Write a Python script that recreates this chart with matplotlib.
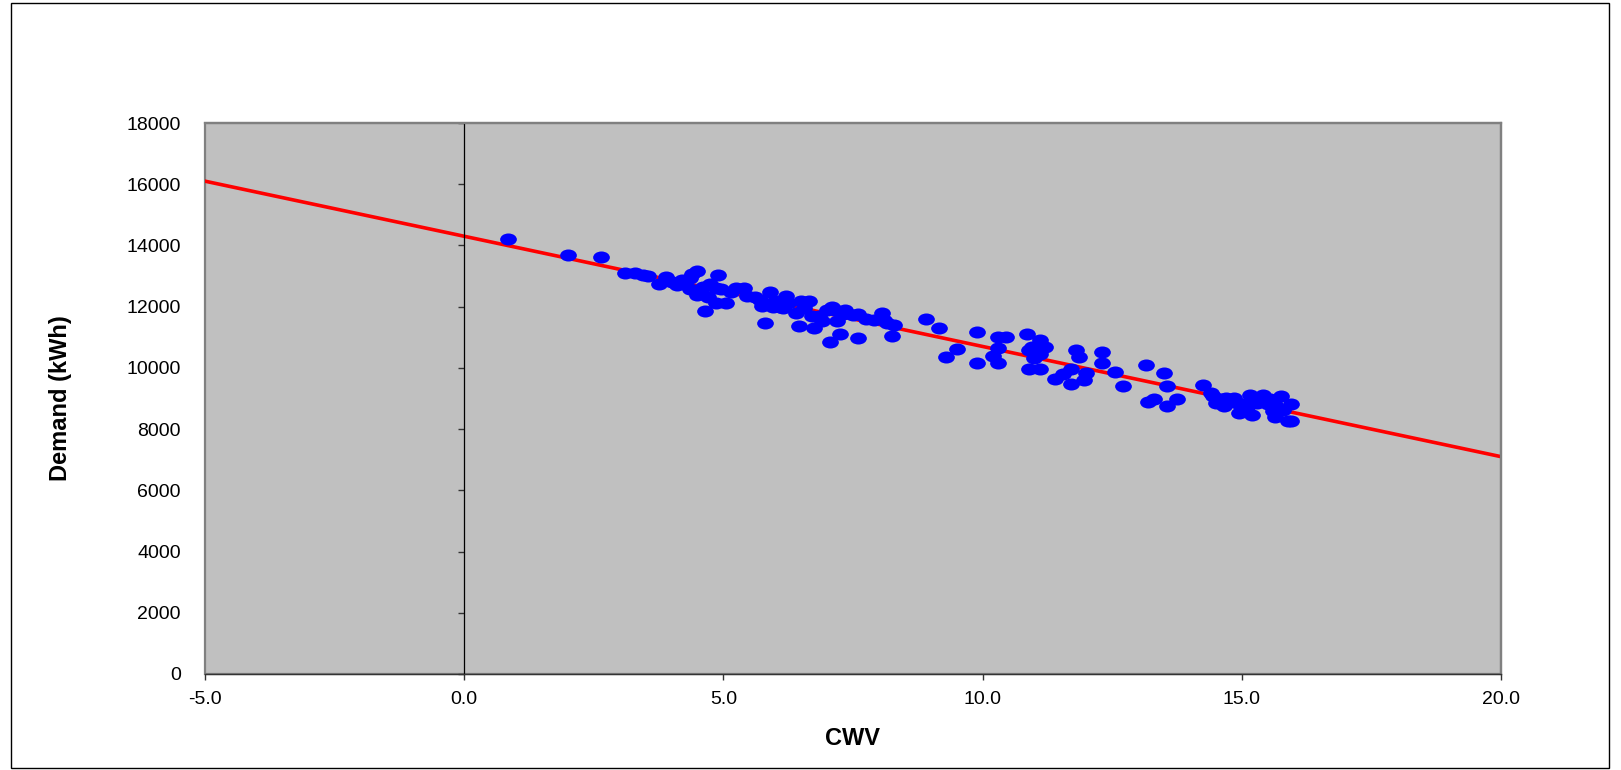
import matplotlib.pyplot as plt
import numpy as np
from matplotlib.path import Path
from matplotlib.patches import Rectangle

plt.rcParams['font.family'] = ['Liberation Sans', 'DejaVu Sans']

# observed points (CWV, demand in kWh)
cwv = [0.85, 2.0, 2.63, 3.1, 3.3, 3.45, 3.55, 3.75, 3.9, 4.0, 4.1, 4.2, 4.35, 4.4, 4.5,
       4.35, 4.5, 4.65, 4.6, 4.7, 4.75, 4.85, 4.9, 4.85, 4.95, 5.05, 5.15, 5.25, 5.4, 5.45,
       5.6, 5.7, 5.75, 5.8, 5.9, 5.95, 6.0, 6.1, 6.2, 6.15, 6.25, 6.4, 6.45, 6.5, 6.55,
       6.65, 6.7, 6.75, 6.85, 6.9, 7.0, 7.05, 7.1, 7.15, 7.2, 7.25, 7.3, 7.35, 7.5, 7.6,
       7.6, 7.75, 7.9, 8.05, 8.1, 8.15, 8.25, 8.3, 8.9, 9.15, 9.3, 9.5, 9.9, 9.9, 10.2,
       10.3, 10.3, 10.3, 10.45, 10.85, 10.9, 10.95, 10.9, 11.0, 11.1, 11.1, 11.1, 11.2, 11.4,
       11.55, 11.7, 11.7, 11.8, 11.85, 11.95, 12.0, 12.3, 12.3, 12.55, 12.7, 13.15, 13.2,
       13.3, 13.5, 13.55, 13.55, 13.75, 14.25, 14.4, 14.45, 14.5, 14.6, 14.65, 14.7, 14.85,
       14.9, 14.95, 15.0, 15.1, 15.15, 15.2, 15.2, 15.3, 15.4, 15.45, 15.5, 15.55, 15.6,
       15.65, 15.65, 15.75, 15.8, 15.9, 15.95, 15.95]
demand = [14200, 13680, 13620, 13110, 13110, 13040, 13000, 12740, 12980, 12810, 12700, 12880,
          12940, 13080, 13180, 12570, 12370, 11860, 12640, 12300, 12740, 12600, 13040, 12130,
          12570, 12130, 12470, 12600, 12600, 12340, 12300, 12230, 12030, 11460, 12470, 12000,
          12200, 12000, 12340, 11960, 12130, 11800, 11360, 12170, 11960, 12200, 11700, 11290,
          11700, 11530, 11900, 10850, 12000, 11900, 11530, 11120, 11760, 11900, 11730, 11760,
          10990, 11600, 11560, 11800, 11560, 11460, 11050, 11390, 11600, 11290, 10350, 10620,
          11160, 10150, 10380, 11020, 10650, 10150, 11020, 11120, 10580, 10680, 9980, 10310,
          9980, 10920, 10450, 10680, 9640, 9810, 9980, 9470, 10580, 10350, 9610, 9840, 10510,
          10150, 9880, 9400, 10080, 8900, 9000, 9840, 9400, 8760, 9000, 9440, 9170, 9070,
          8860, 8970, 8760, 9030, 9030, 8860, 8530, 8830, 8730, 9130, 8460, 8970, 8860, 9130,
          8970, 8830, 9000, 8590, 8390, 8800, 9070, 8630, 8260, 8830, 8260]

# trend line end points
trend_x = [-5, 20]
trend_y = [16100, 7100]

xticks = [-5, 0, 5, 10, 15, 20]
yticks = [0, 2000, 4000, 6000, 8000, 10000, 12000, 14000, 16000, 18000]

fig = plt.figure(figsize=(16.21, 7.70), dpi=100)
ax = fig.add_axes([205 / 1621, 1 - 674 / 770, 1296 / 1621, 551 / 770])
ax.set_facecolor('#C0C0C0')
ax.patch.set_edgecolor('#808080')
ax.patch.set_linewidth(1.6)

# outer frame of the chart
fig.patches.append(Rectangle((11 / 1621, 2 / 770), 1598 / 1621, 765 / 770,
                             transform=fig.transFigure, fill=False,
                             edgecolor='black', linewidth=1.0))

ellipse = Path(Path.unit_circle().vertices * [1.0, 0.72], Path.unit_circle().codes)
ax.plot(trend_x, trend_y, color='#FF0000', linewidth=2.6, zorder=2)
ax.scatter(cwv, demand, marker=ellipse, s=145, color='#0000FF', linewidths=0, zorder=3)

ax.set_xlim(-5, 20)
ax.set_ylim(0, 18000)
ax.set_xticks(xticks)
ax.set_xticklabels(['%.1f' % v for v in xticks])
ax.set_yticks(yticks)

for side in ['top', 'right']:
    ax.spines[side].set_color('#808080')
    ax.spines[side].set_linewidth(1.6)
ax.spines['bottom'].set_color('#333333')
ax.spines['bottom'].set_linewidth(1.0)
ax.spines['left'].set_position(('data', 0))
ax.spines['left'].set_color('black')
ax.spines['left'].set_linewidth(0.9)

ax.tick_params(axis='x', direction='out', length=4, width=1, color='#333333',
               labelsize=14, pad=8)
ax.tick_params(axis='y', direction='out', length=4, width=1, color='#333333',
               labelsize=14, pad=200)

ax.set_xlabel('CWV', fontsize=17, fontweight='bold', labelpad=14)
ax.set_ylabel('Demand (kWh)', fontsize=17, fontweight='bold')
ax.yaxis.set_label_coords(-0.103, 0.5)

fig.savefig('out.png', dpi=100)
